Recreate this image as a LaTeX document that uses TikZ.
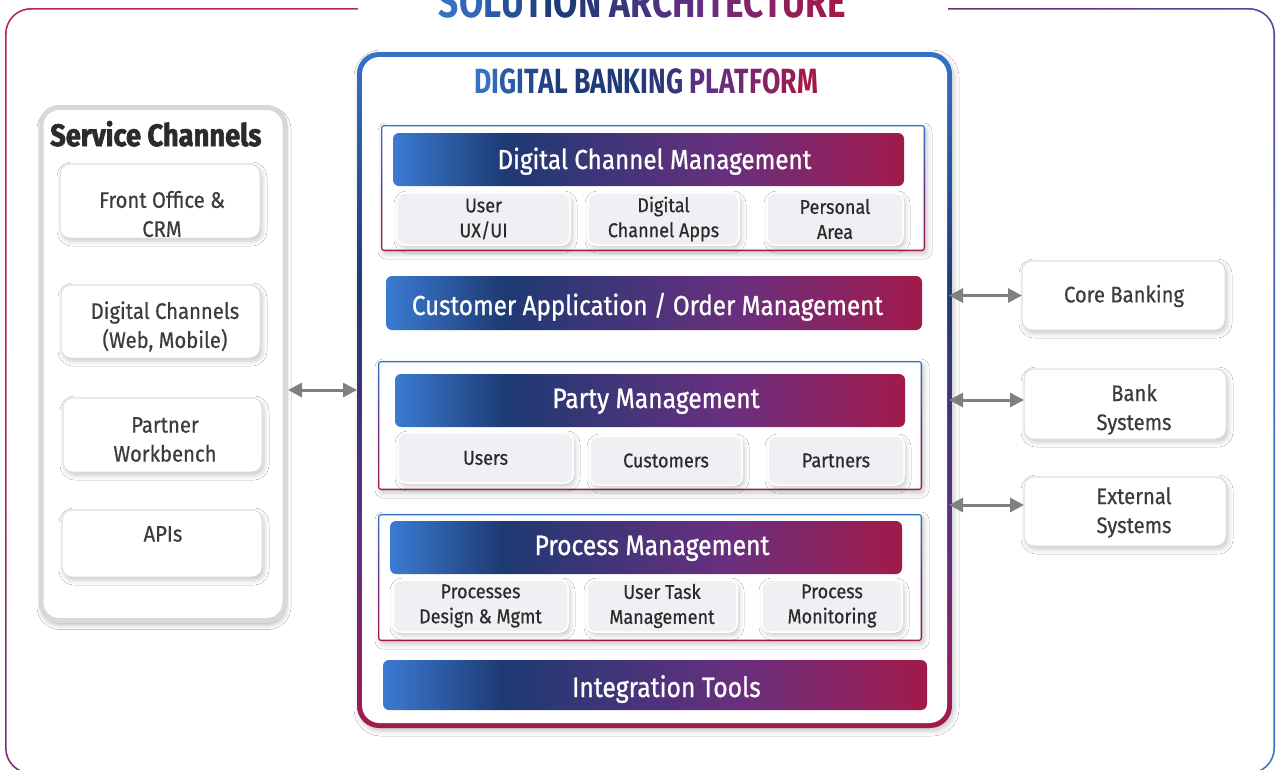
\documentclass[tikz,border=0pt]{standalone}
\usepackage{fontspec}
\usetikzlibrary{arrows.meta,shadows.blur}
\setmainfont{Fira Sans}
\newfontfamily\titlef{Fira Sans}[FakeStretch=0.8]
\newfontfamily\dbpf{Fira Sans}[FakeStretch=0.76]
\newfontfamily\bannerf{Fira Sans}[FakeStretch=0.88, FakeBold=0.9]
\newfontfamily\textf{Fira Sans}[FakeStretch=0.9, FakeBold=0.5]
\newfontfamily\heavyf{Fira Sans}[FakeStretch=0.88, BoldFeatures={FakeBold=2}]
\definecolor{gB}{HTML}{3572C6}
\definecolor{gN}{HTML}{1F3A78}
\definecolor{gP}{HTML}{632F82}
\definecolor{gC}{HTML}{A3194C}
\definecolor{bB}{HTML}{3B7BD2}
\definecolor{bN}{HTML}{1D3A73}
\definecolor{bP}{HTML}{6A2F7E}
\definecolor{bC}{HTML}{A21A4B}
\definecolor{frC}{HTML}{B8235A}
\definecolor{frB}{HTML}{3A72C8}
\definecolor{subfill}{HTML}{F2EFF4}
\definecolor{subtext}{HTML}{2A2A2A}
\definecolor{sidetextc}{HTML}{3C3C3C}
\definecolor{sideborder}{HTML}{DDDDDD}
\definecolor{scborder}{HTML}{D8D8D8}
\definecolor{sctext}{HTML}{2B2B2B}
\definecolor{arrowgray}{HTML}{808080}
\pgfdeclarehorizontalshading{bannersh}{100bp}{color(0bp)=(bB); color(25bp)=(bB); color(36bp)=(bN); color(58bp)=(bP); color(75bp)=(bC); color(100bp)=(bC)}
\pgfdeclareverticalshading{dbpsh}{100bp}{color(0bp)=(gC); color(25bp)=(gC); color(38bp)=(gP); color(58bp)=(gN); color(75bp)=(gB); color(100bp)=(gB)}
\newcommand\gl[2]{\textcolor{#1}{#2}}
\begin{document}
\begin{tikzpicture}[x=1pt,y=-1pt,
  box/.style={inner sep=0pt, outer sep=0pt},
  softshadow/.style={blur shadow={shadow xshift=2pt, shadow yshift=-3pt, shadow blur radius=5pt, shadow opacity=22}},
  dbpframe/.style={box, shade, shading=dbpsh, rounded corners=22pt, softshadow},
  gframe/.style={box, shade, top color=gB, bottom color=gC, middle color=gP, rounded corners=3pt, softshadow},
  inwhite/.style={box, fill=white},
  banner/.style={box, shade, shading=bannersh, rounded corners=6pt},
  bannertext/.style={inner sep=0pt, anchor=base, text=white, font=\bannerf\fontsize{28}{32}\selectfont},
  subbox/.style={box, fill=subfill, draw=white, line width=1.5pt, rounded corners=8pt, softshadow, align=center, text=subtext, font=\textf\fontsize{20}{25}\selectfont},
  sidebox/.style={box, fill=white, draw=sideborder, line width=1pt, rounded corners=10pt, softshadow},
  sidetext/.style={align=center, text=sidetextc, font=\textf\fontsize{22.5}{29}\selectfont, inner sep=0pt},
  biarrow/.style={draw=arrowgray, line width=3pt, {Triangle[length=14pt,width=14pt]}-{Triangle[length=14pt,width=14pt]}},
]
\useasboundingbox (0,0) rectangle (1283,769);

% outer frame
\node[box, shade, top color=frC, bottom color=frB, middle color=gP, shading angle=45, rounded corners=26pt, minimum width=1270pt, minimum height=766pt] (frame) at (640,391) {};
\node[inwhite, rounded corners=24.3pt, minimum width=1266.6pt, minimum height=762.6pt] (framein) at (640,391) {};
\node[inwhite, minimum width=590pt, minimum height=14pt] (gap) at (653,8) {};
\node[anchor=base, inner sep=0pt, font=\titlef\bfseries\fontsize{44}{44}\selectfont] (title) at (642.5,17) {\gl{gB}{S}\gl{gB!80!gN}{O}\gl{gB!60!gN}{L}\gl{gB!40!gN}{U}\gl{gB!20!gN}{T}\gl{gN}{I}\gl{gN}{O}\gl{gN!85!gP}{N} \gl{gN!65!gP}{A}\gl{gN!50!gP}{R}\gl{gN!30!gP}{C}\gl{gN!10!gP}{H}\gl{gP}{I}\gl{gP!85!gC}{T}\gl{gP!70!gC}{E}\gl{gP!55!gC}{C}\gl{gP!40!gC}{T}\gl{gP!25!gC}{U}\gl{gP!10!gC}{R}\gl{gC}{E}};

% service channels
\node[box, draw=scborder, line width=5pt, fill=white, rounded corners=18pt, minimum width=244pt, minimum height=513pt, blur shadow={shadow xshift=1pt, shadow yshift=-4pt, shadow blur radius=5pt, shadow opacity=30}] (sc) at (163,364) {};
\node[anchor=base west, inner sep=0pt, text=sctext, font=\heavyf\bfseries\fontsize{31}{31}\selectfont] (sct) at (50,146) {Service Channels};
\node[sidebox, minimum width=200pt, minimum height=74pt] (fo) at (160,201) {};
\node[sidetext] (fo-t) at (162,214) {Front Office \&\\CRM};
\node[sidebox, minimum width=199pt, minimum height=73pt] (dc) at (160.5,321.5) {};
\node[sidetext] (dc-t) at (165,326.5) {Digital Channels\\(Web, Mobile)};
\node[sidebox, minimum width=199pt, minimum height=74pt] (pw) at (162.5,435) {};
\node[sidetext] (pw-t) at (165,439.5) {Partner\\Workbench};
\node[sidebox, minimum width=200pt, minimum height=67pt] (api) at (162,543.5) {};
\node[sidetext] (api-t) at (163,534) {APIs};

% right systems
\node[sidebox, minimum width=203pt, minimum height=69pt] (core) at (1123.5,295.5) {};
\node[sidetext] (core-t) at (1124,296) {Core Banking};
\node[sidebox, minimum width=202pt, minimum height=70pt] (bank) at (1125,404) {};
\node[sidetext] (bank-t) at (1134,409.5) {Bank\\Systems};
\node[sidebox, minimum width=202pt, minimum height=69pt] (ext) at (1125,511.5) {};
\node[sidetext] (ext-t) at (1134,512.5) {External\\Systems};

% digital banking platform
\node[dbpframe, minimum width=595pt, minimum height=676pt] (dbp) at (654.5,390) {};
\node[inwhite, rounded corners=17.5pt, minimum width=585pt, minimum height=666pt] (dbpin) at (654.5,390) {};
\node[anchor=base, inner sep=0pt, font=\dbpf\bfseries\fontsize{35}{35}\selectfont] (dbpt) at (646,93) {\gl{gB}{D}\gl{gB!80!gN}{I}\gl{gB!60!gN}{G}\gl{gB!45!gN}{I}\gl{gB!30!gN}{T}\gl{gB!15!gN}{A}\gl{gN}{L} \gl{gN}{B}\gl{gN}{A}\gl{gN}{N}\gl{gN}{K}\gl{gN!90!gP}{I}\gl{gN!80!gP}{N}\gl{gN!70!gP}{G} \gl{gP!90!gN}{P}\gl{gP}{L}\gl{gP!85!gC}{A}\gl{gP!70!gC}{T}\gl{gP!55!gC}{F}\gl{gP!40!gC}{O}\gl{gP!20!gC}{R}\gl{gC}{M}};

% group frames
\node[gframe, minimum width=544pt, minimum height=126pt] (g1) at (653,188) {};
\node[inwhite, rounded corners=2pt, minimum width=541.4pt, minimum height=123.4pt] (g1in) at (653,188) {};
\node[gframe, minimum width=544pt, minimum height=129pt] (g2) at (650,425.5) {};
\node[inwhite, rounded corners=2pt, minimum width=541.4pt, minimum height=126.4pt] (g2in) at (650,425.5) {};
\node[gframe, minimum width=544pt, minimum height=127pt] (g3) at (650,577.5) {};
\node[inwhite, rounded corners=2pt, minimum width=541.4pt, minimum height=124.4pt] (g3in) at (650,577.5) {};

% banners
\node[banner, minimum width=511pt, minimum height=53pt] (b1) at (648.5,159.5) {};
\node[bannertext, font=\bannerf\fontsize{27.5}{32}\selectfont] (b1-t) at (654.5,169) {Digital Channel Management};
\node[banner, minimum width=536pt, minimum height=54pt] (b2) at (654,303) {};
\node[bannertext, font=\bannerf\fontsize{27.5}{32}\selectfont] (b2-t) at (647.5,315) {Customer Application / Order Management};
\node[banner, minimum width=510pt, minimum height=53pt] (b3) at (650,400.5) {};
\node[bannertext] (b3-t) at (656,408) {Party Management};
\node[banner, minimum width=512pt, minimum height=53pt] (b4) at (646,547.5) {};
\node[bannertext] (b4-t) at (652,555) {Process Management};
\node[banner, minimum width=544pt, minimum height=50pt] (b5) at (655,685) {};
\node[bannertext] (b5-t) at (666.5,697) {Integration Tools};

% sub boxes
\node[subbox, minimum width=173pt, minimum height=52pt] (s11) at (483.5,219) {User\\UX/UI};
\node[subbox, minimum width=151pt, minimum height=52pt] (s12) at (663.5,219) {Digital\\Channel Apps};
\node[subbox, minimum width=136pt, minimum height=52pt] (s13) at (835,219) {Personal\\Area};
\node[subbox, minimum width=175pt, minimum height=50pt] (s21) at (485.5,458) {Users};
\node[subbox, minimum width=152pt, minimum height=49pt] (s22) at (666,460.5) {Customers};
\node[subbox, minimum width=136pt, minimum height=49pt] (s23) at (836,460.5) {Partners};
\node[subbox, minimum width=175pt, minimum height=52pt] (s31) at (480.5,606) {Processes\\Design \& Mgmt};
\node[subbox, minimum width=150pt, minimum height=52pt] (s32) at (662,606) {User Task\\Management};
\node[subbox, minimum width=140pt, minimum height=52pt] (s33) at (832,606) {Process\\Monitoring};

% connectors
\coordinate (yl) at (0,390);
\coordinate (y2) at (0,400);
\coordinate (y3) at (0,505);
\draw[biarrow, shorten <=3pt] (sc.east |- yl) -- (dbp.west |- yl);
\draw[biarrow, shorten <=-3pt] (dbp.east |- core.west) -- (core.west);
\draw[biarrow, shorten <=-3pt] (dbp.east |- y2) -- (bank.west |- y2);
\draw[biarrow, shorten <=-3pt] (dbp.east |- y3) -- (ext.west |- y3);
\end{tikzpicture}
\end{document}
